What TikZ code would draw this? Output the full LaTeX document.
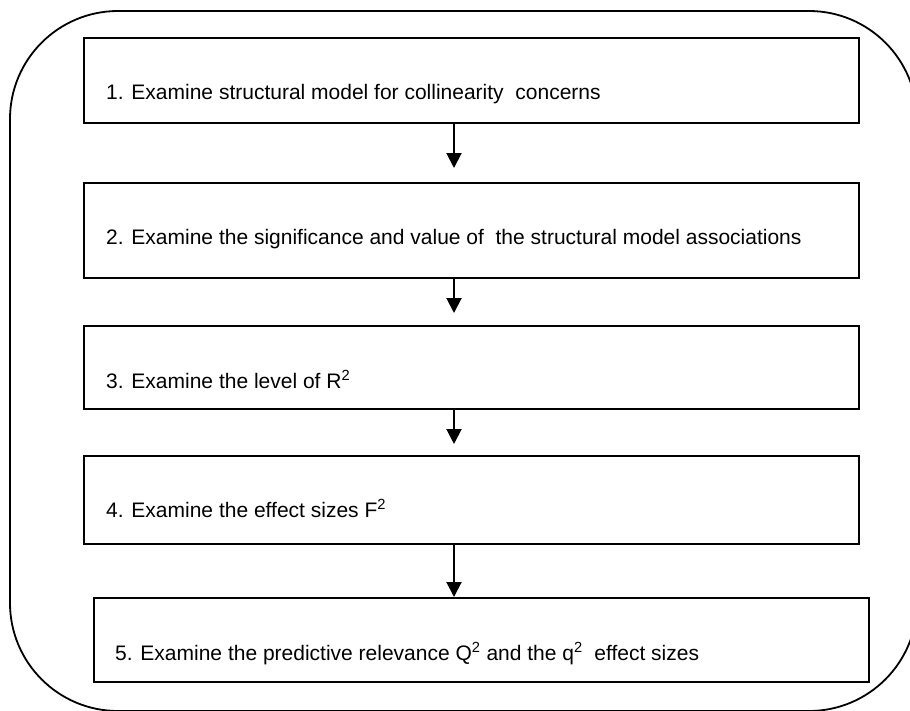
\documentclass[tikz,border=0pt]{standalone}
\usepackage{fontspec}
\setmainfont{Liberation Sans}
\usetikzlibrary{arrows.meta}
\begin{document}
\begin{tikzpicture}[x=1pt,y=-1pt,
  stepbox/.style={draw, line width=2pt, rectangle, inner sep=0pt, anchor=north west, minimum width=775pt},
  steptext/.style={anchor=base west, inner sep=0pt, font=\fontsize{21}{25}\selectfont},
  flow/.style={line width=2pt, -{Triangle[length=15pt,width=15pt]}}]
\useasboundingbox (0,0) rectangle (910,710);
\clip (0,0) rectangle (910,710);
% outer rounded frame, partly running past the page edge
\draw[line width=1.8pt, rounded corners=108pt] (10,11) rectangle (917,711);
% step boxes
\node[stepbox, minimum height=85pt] (b1) at (83,37) {};
\node[stepbox, minimum height=95pt] (b2) at (83,182) {};
\node[stepbox, minimum height=83pt] (b3) at (83,325) {};
\node[stepbox, minimum height=88pt] (b4) at (83,455) {};
\node[stepbox, minimum height=84pt] (b5) at (93,597) {};
% step texts
\node[steptext] (t1) at (106,99) {1. Examine structural model for collinearity\ \ concerns};
\node[steptext] (t2) at (106,244) {2. Examine the significance and value of\ \ the structural model associations};
\node[steptext] (t3) at (106,388) {3. Examine the level of R\textsuperscript{2}};
\node[steptext] (t4) at (106,517) {4. Examine the effect sizes F\textsuperscript{2}};
\node[steptext] (t5) at (115,660) {5. Examine the predictive relevance Q\textsuperscript{2} and the q\textsuperscript{2}\ \ effect sizes};
% flow arrows
\coordinate (ax) at (454,0);
\draw[flow, shorten >=14pt] (b1.south -| ax) -- (b2.north -| ax);
\draw[flow, shorten >=12pt] (b2.south -| ax) -- (b3.north -| ax);
\draw[flow, shorten >=11pt] (b3.south -| ax) -- (b4.north -| ax);
\draw[flow] (b4.south -| ax) -- (b5.north -| ax);
\end{tikzpicture}
\end{document}
